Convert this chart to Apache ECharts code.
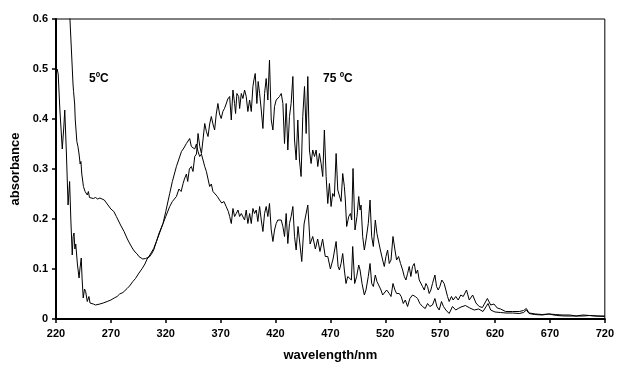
<!DOCTYPE html>
<html>
<head>
<meta charset="utf-8">
<script src="https://cdn.jsdelivr.net/npm/echarts@6/dist/echarts.min.js"></script>
<style>html,body{margin:0;padding:0;background:#fff}#c{width:617px;height:369px}</style>
</head>
<body>
<div id="c"></div>
<script>
// ---- data ----
var xTicks = [220, 270, 320, 370, 420, 470, 520, 570, 620, 670, 720];
var yTicks = [0, 0.1, 0.2, 0.3, 0.4, 0.5, 0.6];
var seriesNames = ['5ºC', '75 ºC'];

var wl5 = [230,232.7,234,235.5,236,237,237.5,239,240,241,242,242.7,243.5,245,246.5,248.5,249.5,250.5,252,254,256,258,260,262,264,266,268,270,272.7,275,278.8,282,285,287.9,290,292,294,295.5,297,299,301.5,303,305,307,309,311.5,314,317.5,320,323.6,326,329.7,332,334.3,336.5,338.8,340.5,341.8,343.3,344.8,346.4,347.9,349.4,350.9,352.5,355.5,357,358.5,360,361.5,363,365,367,369,371,373,375,377,
  378.2,379.7,381.2,382.7,384.2,385.8,387.3,388.8,390.3,391.8,393.3,394.8,396.4,397.9,399.4,400.9,402.4,403.9,405.5,407,408.5,410,411.5,413,414.5,416.1,417.6,419.1,420.6,422.1,423.6,425.2,426.7,428.2,429.7,431.2,432.7,434.2,435.8,437.3,438.8,
  440.5,443.9,446,449.4,451.5,453.9,456.3,458.4,460.5,462.9,465.3,467.6,470,472.4,475.2,477,
  478.2,479.7,481.2,482.7,484.2,485.8,487.3,489.1,490.3,492.1,493.9,495.8,497,498.8,500.9,502.4,504.5,506.1,507.6,509.1,510.9,512.4,513.9,516.1,517.6,519.1,521.2,523.6,525.2,527,528.8,530.3,532.7,534.5,536.4,538.2,540.3,542.4,544.8,547.3,549.4,551.5,553.9,556.4,558.5,560.6,563,565.2,567,569.1,571.2,573,575.2,578.2,581.2,584.2,586.4,
  589,593,597,601,605,609,613.6,616,620,625,630,636,642,646,648.5,651,656,663,669,676,684,691,700,706,713,720];
var abs5 = [0.75,0.60,0.54,0.47,0.455,0.43,0.40,0.355,0.345,0.33,0.31,0.315,0.29,0.265,0.255,0.248,0.255,0.243,0.244,0.241,0.243,0.24,0.242,0.24,0.238,0.232,0.226,0.22,0.215,0.205,0.188,0.175,0.16,0.148,0.14,0.134,0.13,0.125,0.128,0.12,0.121,0.125,0.124,0.13,0.138,0.155,0.17,0.191,0.215,0.251,0.275,0.305,0.32,0.335,0.342,0.351,0.348,0.361,0.345,0.348,0.34,0.35,0.335,0.325,0.33,0.305,0.295,0.28,0.265,0.27,0.255,0.25,0.245,0.238,0.232,0.235,0.225,0.215,
  0.205,0.191,0.221,0.205,0.211,0.218,0.205,0.211,0.215,0.198,0.218,0.191,0.211,0.191,0.221,0.211,0.218,0.195,0.225,0.198,0.175,0.211,0.225,0.205,0.231,0.178,0.155,0.178,0.191,0.198,0.195,0.198,0.185,0.165,0.211,0.151,0.191,0.205,0.225,0.165,0.138,
  0.185,0.115,0.19,0.228,0.15,0.165,0.14,0.16,0.135,0.16,0.125,0.125,0.1,0.12,0.155,0.105,
  0.098,0.111,0.131,0.098,0.071,0.085,0.088,0.078,0.145,0.071,0.085,0.108,0.098,0.071,0.048,0.058,0.085,0.111,0.071,0.065,0.088,0.075,0.071,0.058,0.048,0.045,0.058,0.051,0.045,0.071,0.058,0.051,0.051,0.045,0.031,0.038,0.025,0.041,0.048,0.045,0.041,0.031,0.025,0.021,0.031,0.025,0.028,0.041,0.025,0.018,0.035,0.025,0.018,0.011,0.025,0.018,0.021,
  0.024,0.027,0.022,0.018,0.02,0.015,0.031,0.018,0.014,0.013,0.012,0.012,0.011,0.013,0.018,0.011,0.009,0.008,0.01,0.007,0.006,0.006,0.006,0.007,0.006,0.006];

var wl75 = [220,221,222,223.5,225.7,227,228,229.5,231,232.4,233.5,234.8,235.6,236.4,237.2,238,239.5,241,241.8,243,243.8,244.8,246,247,248.5,250,251,252,254,256,257.6,260,263,266.6,270,273,275.7,278,281,284.8,287,290,292.4,295,298.5,301,303,305.5,307,309,311.5,314,317.5,320,323.6,326,329.7,332,334,335.8,337,338.8,340,341.5,343.3,344.8,346.4,348,349.4,351,352.5,354,355.5,357,358.5,360,361.5,363,364.5,366,367.5,369,370.5,372,373.5,375,376.5,
  378.2,379.7,381.2,382.7,383.6,384.8,386.4,387.3,388.8,390.3,391.8,393.3,394.8,396.4,397.9,399.4,400.3,401.5,403,404.2,405.5,407,408.5,410,411.5,413,414.5,416.1,417.6,419.1,420.6,422.1,423.6,425.2,426.7,428.2,429.7,431.2,432.7,434.2,435.8,437.3,438.8,440.3,441.8,443.3,444.8,446.4,447.9,449.4,450.9,452.4,453.9,455.5,457,458.5,460,461.5,463,464.5,466.1,467.6,469.1,470.6,472.1,473.6,475.2,476.7,
  478.2,479.7,481.2,482.7,483.6,484.8,486.7,488.2,489.4,490.6,492.4,494.2,495.8,497,497.9,499.4,500.9,502.4,504.5,506.1,507.6,509.1,510.9,512.4,513.9,515.5,517.6,519.1,520.6,522.1,523.6,525.2,527,528.8,530.3,532.1,533.9,535.8,537.3,538.8,540.3,541.8,543.3,544.8,546.4,547.9,549.4,550.9,552.4,553.9,555.5,557,558.5,560,561.5,563,565.2,566.7,568.2,569.7,571.5,573.6,575.2,576.7,578.2,580.3,581.8,584.2,586.4,
  588.8,591,594,596.5,599.6,602.6,605.5,608.5,613,616,619,622,625,629.7,636,642,646,648.5,651,657,663,669,675,681,688,694,700,706,712,720];
var abs75 = [0.49,0.50,0.49,0.42,0.34,0.38,0.418,0.33,0.228,0.275,0.2,0.128,0.165,0.172,0.14,0.15,0.11,0.082,0.1,0.122,0.08,0.042,0.06,0.055,0.035,0.045,0.032,0.028,0.03,0.028,0.029,0.03,0.032,0.035,0.038,0.042,0.045,0.05,0.053,0.061,0.066,0.075,0.081,0.09,0.101,0.11,0.12,0.128,0.132,0.141,0.155,0.172,0.191,0.205,0.225,0.235,0.245,0.26,0.255,0.271,0.28,0.29,0.275,0.3,0.305,0.295,0.325,0.33,0.371,0.345,0.331,0.36,0.391,0.375,0.365,0.39,0.405,0.39,0.378,0.41,0.431,0.41,0.401,0.415,0.421,0.43,0.44,
  0.445,0.398,0.458,0.431,0.411,0.451,0.445,0.421,0.451,0.441,0.458,0.445,0.415,0.438,0.415,0.465,0.478,0.491,0.431,0.475,0.451,0.418,0.381,0.451,0.481,0.438,0.518,0.398,0.378,0.425,0.438,0.435,0.445,0.451,0.431,0.351,0.431,0.338,0.405,0.431,0.485,0.358,0.318,0.398,0.318,0.285,0.405,0.465,0.371,0.485,0.338,0.311,0.338,0.325,0.338,0.305,0.331,0.311,0.285,0.378,0.285,0.231,0.271,0.225,0.251,0.245,0.331,0.258,
  0.258,0.235,0.291,0.265,0.238,0.185,0.205,0.211,0.198,0.301,0.178,0.205,0.245,0.218,0.228,0.165,0.138,0.158,0.191,0.238,0.165,0.145,0.198,0.171,0.171,0.138,0.118,0.105,0.125,0.138,0.111,0.118,0.165,0.138,0.118,0.125,0.111,0.098,0.085,0.078,0.091,0.105,0.085,0.105,0.111,0.091,0.098,0.078,0.078,0.065,0.058,0.071,0.065,0.051,0.058,0.071,0.088,0.065,0.058,0.065,0.078,0.071,0.058,0.045,0.035,0.045,0.038,0.045,0.038,
  0.048,0.045,0.058,0.038,0.048,0.032,0.025,0.023,0.041,0.028,0.03,0.022,0.02,0.015,0.015,0.015,0.017,0.021,0.012,0.01,0.009,0.01,0.009,0.008,0.008,0.006,0.008,0.007,0.006,0.005];

function pairs(xs, ys) { return xs.map(function (x, i) { return [x, ys[i]]; }); }

var chart = echarts.init(document.getElementById('c'), null, { renderer: 'canvas' });
var FONT = 'Liberation Sans, Arial, sans-serif';
chart.setOption({
  animation: false,
  backgroundColor: '#fff',
  grid: { left: 56, right: 11, top: 19, bottom: 50, show: true, borderColor: '#000', borderWidth: 1, backgroundColor: 'transparent' },
  xAxis: {
    type: 'value', min: xTicks[0], max: xTicks[xTicks.length - 1], interval: 50,
    name: 'wavelength/nm', nameLocation: 'middle', nameGap: 30,
    nameTextStyle: { fontFamily: FONT, fontWeight: 'bold', fontSize: 13, color: '#000' },
    axisLine: { lineStyle: { color: '#000', width: 2 } },
    axisTick: { show: true, inside: false, length: 4, lineStyle: { color: '#000', width: 1.5 } },
    axisLabel: { fontFamily: FONT, fontWeight: 'bold', fontSize: 11, color: '#000', margin: 9 },
    splitLine: { show: false }
  },
  yAxis: {
    type: 'value', min: yTicks[0], max: yTicks[yTicks.length - 1], interval: 0.1,
    name: 'absorbance', nameLocation: 'middle', nameGap: 32, nameRotate: 90,
    nameTextStyle: { fontFamily: FONT, fontWeight: 'bold', fontSize: 13, color: '#000' },
    axisLine: { show: true, lineStyle: { color: '#000', width: 2 } },
    axisTick: { show: true, inside: false, length: 4, lineStyle: { color: '#000', width: 1.5 } },
    axisLabel: { fontFamily: FONT, fontWeight: 'bold', fontSize: 11, color: '#000', margin: 8,
      formatter: function (v) { return v === 0 ? '0' : v.toFixed(1); } },
    splitLine: { show: false }
  },
  series: [
    { name: seriesNames[0], type: 'line', data: pairs(wl5, abs5), showSymbol: false, symbol: 'none', clip: true,
      lineStyle: { color: '#000', width: 1 } },
    { name: seriesNames[1], type: 'line', data: pairs(wl75, abs75), showSymbol: false, symbol: 'none', clip: true,
      lineStyle: { color: '#000', width: 1 } }
  ],
  graphic: [
    { type: 'text', left: 89, top: 73, style: { text: seriesNames[0], fontFamily: FONT, fontWeight: 'bold', fontSize: 12, fill: '#000' } },
    { type: 'text', left: 323, top: 73, style: { text: seriesNames[1], fontFamily: FONT, fontWeight: 'bold', fontSize: 12, fill: '#000' } }
  ]
});
</script>
</body>
</html>
